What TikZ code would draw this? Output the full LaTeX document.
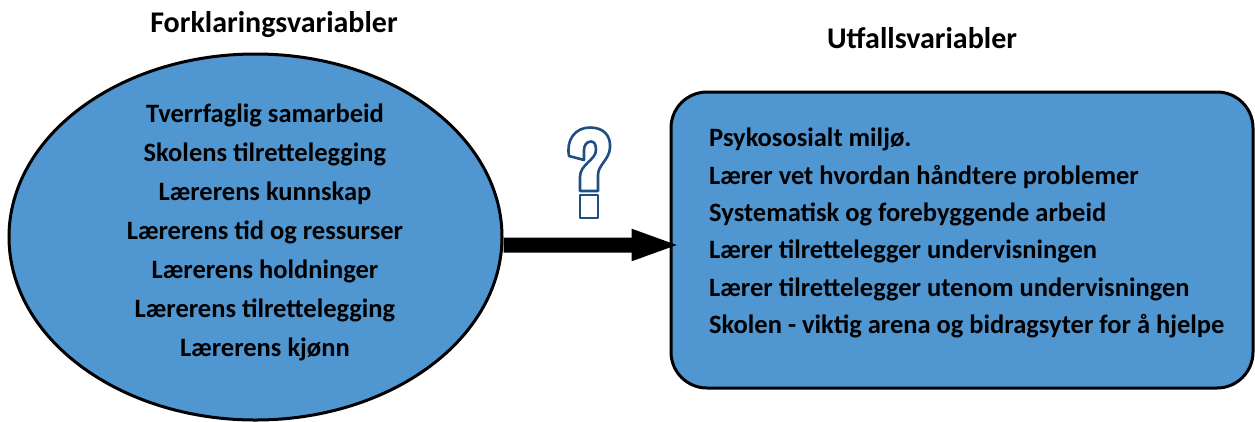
\documentclass[tikz,border=0pt]{standalone}
\usepackage{fontspec}
\setmainfont{Carlito}
\usetikzlibrary{arrows.meta,shapes.geometric}
\definecolor{fillblue}{RGB}{80,150,208}
\definecolor{qblue}{RGB}{31,78,130}
\tikzset{
  title/.style={font=\fontsize{30bp}{34bp}\selectfont\bfseries, anchor=center},
  body/.style={font=\fontsize{26.5bp}{30bp}\selectfont\bfseries, inner sep=0pt},
  shapeframe/.style={draw=black, line width=3bp, fill=fillblue},
  qmark/.style={draw=qblue, line width=2.6bp, fill=white, line join=round},
}
\begin{document}
\begin{tikzpicture}[x=1bp,y=-1bp]
\useasboundingbox (0,0) rectangle (1255,421);
% titles
\node[title] (t1) at (274,25) {Forklaringsvariabler};
\node[title] (t2) at (922,38) {Utfallsvariabler};
% ellipse
\node[shapeframe, ellipse, minimum width=493bp, minimum height=366bp, inner sep=0pt] (ell) at (255.5,237) {};
% rounded box
\node[shapeframe, rectangle, rounded corners=36bp, minimum width=582bp, minimum height=296bp, inner sep=0pt] (box) at (962,240) {};
% left texts
\foreach \t [count=\i from 0] in {Tverrfaglig samarbeid, Skolens tilrettelegging, Lærerens kunnskap, Lærerens tid og ressurser, Lærerens holdninger, Lærerens tilrettelegging, Lærerens kjønn}{
  \node[body] (l\i) at (265,115+39*\i) {\t};
}
% right texts
\foreach \t [count=\i from 0] in {Psykososialt miljø., Lærer vet hvordan håndtere problemer, Systematisk og forebyggende arbeid, Lærer tilrettelegger undervisningen, Lærer tilrettelegger utenom undervisningen, Skolen - viktig arena og bidragsyter for å hjelpe}{
  \node[body, anchor=west] (r\i) at (709,139+37.5*\i) {\t};
}
% arrow
\draw[line width=15bp, -{Triangle[length=50bp,width=28bp]}] ([yshift=-8bp]ell.east) -- ([xshift=12bp,yshift=-5bp]box.west);
% question mark (outlined)
\draw[qmark] (569,156)
  .. controls (566,140) and (575,127.5) .. (590,127.5)
  .. controls (604,127.5) and (611,136) .. (610,148)
  .. controls (609,160) and (598,165) .. (598,175)
  -- (598,191) -- (580,191) -- (580,177)
  .. controls (580,164) and (596,160) .. (596,150)
  .. controls (596,144) and (594,141.5) .. (591,141.5)
  .. controls (587,141.5) and (584,145) .. (584,150)
  -- (584,160) -- cycle;
\draw[qmark] (580,195) rectangle (598,218);
\end{tikzpicture}
\end{document}
